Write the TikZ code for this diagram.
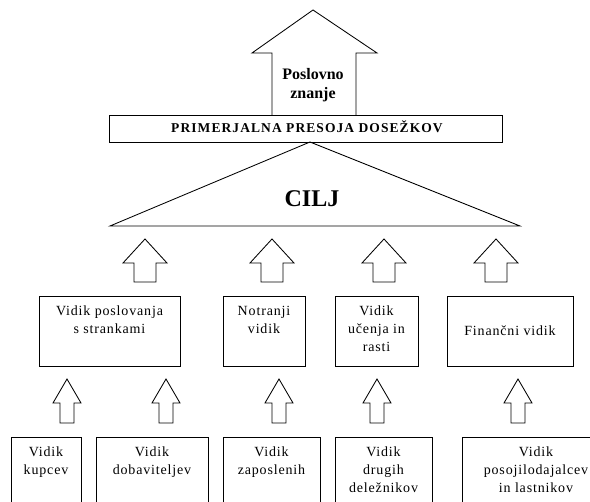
\documentclass[tikz,border=0pt]{standalone}
\usepackage{fontspec}
\setmainfont{Liberation Serif}
\newfontfamily\boxfont[LetterSpace=6]{Liberation Serif}
\newfontfamily\capsfont[LetterSpace=8]{Liberation Serif}

\tikzset{
  outline/.style={draw=black, line width=0.85pt},
  frame/.style={outline, rectangle, inner sep=0pt},
  boxtxt/.style={align=center, inner sep=0pt, font=\boxfont\fontsize{14}{18}\selectfont},
  headtxt/.style={align=center, inner sep=0pt, font=\bfseries\fontsize{16}{19}\selectfont},
  % block arrow pointing up; origin at the middle of the shaft's foot
  % #1 half head width, #2 half shaft width, #3 head height, #4 shaft height
  pics/uparrow/.style n args={4}{code={
    \draw[outline, line join=miter]
      (-#2,0) -- (-#2,-#4) -- (-#1,-#4) -- (0,-#4-#3) -- (#1,-#4)
      -- (#2,-#4) -- (#2,0) -- cycle;
  }},
}

\begin{document}
\begin{tikzpicture}[x=1pt, y=-1pt]
\useasboundingbox (0,0) rectangle (590,502);
\clip (0,0) rectangle (590,502);

% benchmarking bar with the knowledge arrow on top
\draw[outline, line join=miter]
  (272,115) -- (272,53) -- (252,53) -- (313,10) -- (377,53) -- (356,53) -- (356,115);
\node[headtxt, anchor=north] (know) at (313,68) {Poslovno\\znanje};
\node[frame, minimum width=393pt, minimum height=27pt] (bench) at (305.5,128.5) {};
\node[inner sep=0pt, anchor=base, font=\capsfont\bfseries\fontsize{13.5}{15}\selectfont]
  (benchtxt) at (307,133) {PRIMERJALNA PRESOJA DOSEŽKOV};

% goal triangle
\coordinate (apex) at (310,142);
\coordinate (baseL) at (110,226);
\coordinate (baseR) at (520,226);
\draw[outline, line join=miter] (apex) -- (baseL) -- (baseR) -- cycle;
\node[inner sep=0pt, anchor=base, font=\bfseries\fontsize{24}{28}\selectfont]
  (goal) at (312,207) {CILJ};

% arrows into the goal
\pic at (145,282) {uparrow={22}{11}{24}{19}};
\pic at (272,282) {uparrow={22}{11}{24}{19}};
\pic at (384,282) {uparrow={22}{11}{24}{19}};
\pic at (496,282) {uparrow={22}{11}{24}{19}};

% the four perspectives
\node[frame, minimum width=141pt, minimum height=70pt] (v1) at (109.5,331) {};
\node[frame, minimum width=82pt,  minimum height=70pt] (v2) at (264,331) {};
\node[frame, minimum width=83pt,  minimum height=70pt] (v3) at (376.5,331) {};
\node[frame, minimum width=126pt, minimum height=70pt] (v4) at (510,331) {};
\node[boxtxt, anchor=north] (v1t) at (109.5,306) {Vidik poslovanja\\s strankami};
\node[boxtxt, anchor=north] (v2t) at (264,306) {Notranji\\vidik};
\node[boxtxt, anchor=north] (v3t) at (376.5,306) {Vidik\\učenja in\\rasti};
\node[boxtxt, anchor=base]  (v4t) at (510,336) {Finančni vidik};

% arrows into the perspectives
\pic at (67,423)  {uparrow={14}{7}{24}{20}};
\pic at (166,423) {uparrow={14}{7}{24}{20}};
\pic at (279,423) {uparrow={14}{7}{24}{20}};
\pic at (377,423) {uparrow={14}{7}{24}{20}};
\pic at (518,423) {uparrow={14}{7}{24}{20}};

% stakeholder views
\node[frame, minimum width=70pt,  minimum height=93pt] (b1) at (46,483.5) {};
\node[frame, minimum width=112pt, minimum height=93pt] (b2) at (152,483.5) {};
\node[frame, minimum width=97pt,  minimum height=93pt] (b3) at (271.5,483.5) {};
\node[frame, minimum width=97pt,  minimum height=93pt] (b4) at (383.5,483.5) {};
\node[frame, minimum width=148pt, minimum height=93pt] (b5) at (536,483.5) {};
\node[boxtxt, anchor=north] (b1t) at (46,447)    {Vidik\\kupcev};
\node[boxtxt, anchor=north] (b2t) at (152,447)   {Vidik\\dobaviteljev};
\node[boxtxt, anchor=north] (b3t) at (271.5,447) {Vidik\\zaposlenih};
\node[boxtxt, anchor=north] (b4t) at (383.5,447) {Vidik\\drugih\\deležnikov};
\node[boxtxt, anchor=north] (b5t) at (536,447)   {Vidik\\posojilodajalcev\\in lastnikov};
\end{tikzpicture}
\end{document}
